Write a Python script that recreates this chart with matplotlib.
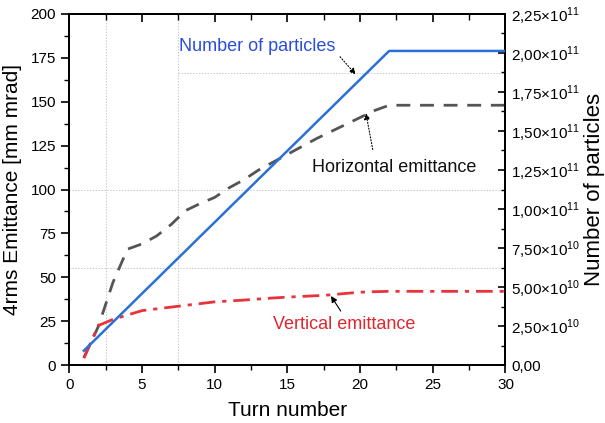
import matplotlib
matplotlib.use("Agg")
import matplotlib.pyplot as plt
from matplotlib.ticker import MultipleLocator, FixedLocator

plt.rcParams['font.family'] = ['Liberation Sans', 'DejaVu Sans']
plt.rcParams['mathtext.fontset'] = 'custom'
plt.rcParams['mathtext.rm'] = 'Liberation Sans'

turns = list(range(1, 31))
horizontal = [4, 22, 47, 66, 69, 73.5, 80, 88, 92, 95.5, 101, 105.5, 111, 115.5, 120,
              124.5, 129, 133, 137, 141, 145, 148, 148, 148, 148, 148, 148, 148, 148, 148]
vertical = [4, 22.5, 26, 28.5, 31, 32, 33, 34, 35, 36, 36.5, 37, 37.6, 38.2, 38.7,
            39.1, 39.5, 40, 40.8, 41.5, 41.8, 42, 42, 42, 42, 42, 42, 42, 42, 42]
particles = [0.092e11, 0.183e11, 0.275e11, 0.366e11, 0.458e11, 0.549e11, 0.641e11,
             0.732e11, 0.824e11, 0.915e11, 1.007e11, 1.098e11, 1.190e11, 1.281e11,
             1.373e11, 1.464e11, 1.556e11, 1.647e11, 1.739e11, 1.830e11, 1.922e11,
             2.013e11, 2.013e11, 2.013e11, 2.013e11, 2.013e11, 2.013e11, 2.013e11,
             2.013e11, 2.013e11]

right_ticks = [0, 0.25e11, 0.5e11, 0.75e11, 1.0e11, 1.25e11, 1.5e11, 1.75e11, 2.0e11, 2.25e11]
right_labels = ['0,00', r'2,50$\times$10$^{10}$', r'5,00$\times$10$^{10}$', r'7,50$\times$10$^{10}$',
                r'1,00$\times$10$^{11}$', r'1,25$\times$10$^{11}$', r'1,50$\times$10$^{11}$',
                r'1,75$\times$10$^{11}$', r'2,00$\times$10$^{11}$', r'2,25$\times$10$^{11}$']

fig = plt.figure(figsize=(6.05, 4.23), dpi=100)
ax = fig.add_axes([0.1145, 0.137, 0.721, 0.830])
ax2 = ax.twinx()

# dotted reference lines
grid_kw = dict(color='#c8c8c8', lw=0.7, ls=(0, (1.5, 1.5)), zorder=0)
ax.axhline(166.5, xmin=0.25, xmax=1.0, **grid_kw)
ax.axhline(100, **grid_kw)
ax.axhline(55.5, **grid_kw)
ax.axvline(2.55, **grid_kw)
ax.axvline(7.5, **grid_kw)

ax.plot(turns, horizontal, color='#555555', lw=2.0, ls=(0, (5, 3.5)), zorder=3)
ax.plot(turns, vertical, color='#e8333a', lw=2.0, ls=(0, (6, 2.5, 1.5, 2.5)), zorder=3)
ax2.plot(turns, particles, color='#2a70d6', lw=1.8, zorder=3)

ax.set_xlim(0, 30)
ax.set_ylim(0, 200)
ax2.set_ylim(0, 2.25e11)

ax.xaxis.set_major_locator(MultipleLocator(5))
ax.xaxis.set_minor_locator(MultipleLocator(2.5))
ax.yaxis.set_major_locator(MultipleLocator(25))
ax.yaxis.set_minor_locator(MultipleLocator(12.5))
ax2.yaxis.set_major_locator(FixedLocator(right_ticks))
ax2.yaxis.set_minor_locator(MultipleLocator(0.125e11))
ax2.set_yticklabels(right_labels)

ax.tick_params(axis='both', which='major', direction='out', length=6, width=1.2, labelsize=11)
ax.tick_params(axis='both', which='minor', direction='out', length=3.5, width=1.0)
ax.tick_params(axis='x', which='both', top=False)
ax2.tick_params(axis='y', which='major', direction='in', length=5, width=1.2, labelsize=11, pad=4)
ax2.tick_params(axis='y', which='minor', direction='in', length=3, width=1.0)

topax = ax.secondary_xaxis('top')
topax.xaxis.set_major_locator(MultipleLocator(5))
topax.xaxis.set_minor_locator(MultipleLocator(2.5))
topax.tick_params(which='major', direction='in', length=6, width=1.2, labeltop=False)
topax.tick_params(which='minor', direction='in', length=4, width=1.0)
topax.spines['top'].set_linewidth(1.3)

for a in (ax, ax2):
    for s in a.spines.values():
        s.set_linewidth(1.3)

ax.set_xlabel('Turn number', fontsize=15, labelpad=6)
ax.set_ylabel('4rms Emittance [mm mrad]', fontsize=15, labelpad=6)
ax2.set_ylabel('Number of particles', fontsize=16, labelpad=3)

ax.annotate('Number of particles', xy=(19.7, 165.5), xytext=(7.55, 181.5),
            color='#2a4de0', fontsize=13, va='center', ha='left',
            arrowprops=dict(arrowstyle='-|>', color='black', lw=0.8, ls=':',
                            shrinkA=2, shrinkB=0, mutation_scale=9,
                            relpos=(1.0, 0.2)))
ax.annotate('Horizontal emittance', xy=(20.4, 143.5), xytext=(16.7, 112.5),
            color='#111111', fontsize=13, va='center', ha='left',
            arrowprops=dict(arrowstyle='-|>', color='black', lw=0.8, ls=':',
                            shrinkA=5, shrinkB=0, mutation_scale=9,
                            relpos=(0.38, 1.0)))
ax.annotate('Vertical emittance', xy=(18.0, 39.3), xytext=(14.0, 23),
            color='#e0262e', fontsize=13, va='center', ha='left',
            arrowprops=dict(arrowstyle='-|>', color='black', lw=0.8,
                            shrinkA=2, shrinkB=0, mutation_scale=9,
                            relpos=(0.5, 1.0)))

fig.savefig('out.png', dpi=100)
